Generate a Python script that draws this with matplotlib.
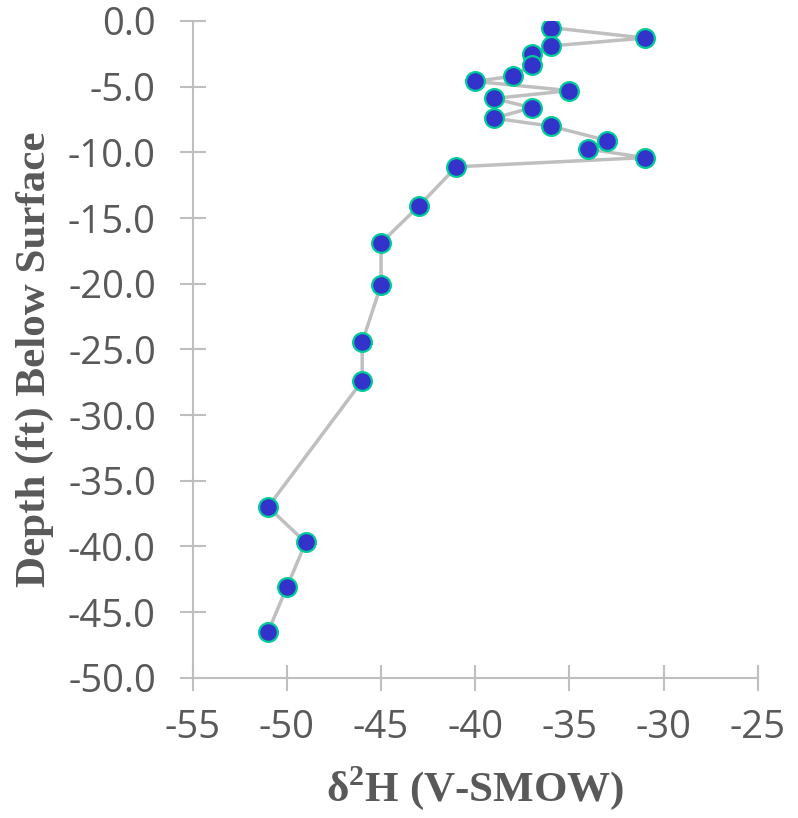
import matplotlib
matplotlib.use("Agg")
import matplotlib.pyplot as plt

plt.rcParams["mathtext.fontset"] = "custom"
plt.rcParams["mathtext.rm"] = "Liberation Serif:bold"
plt.rcParams["mathtext.bf"] = "Liberation Serif:bold"

# Data
d2h = [-36, -31, -36, -37, -37, -38, -40, -35, -39, -37, -39, -36, -33, -34, -31,
       -41, -43, -45, -45, -46, -46, -51, -49, -50, -51]
depth = [-0.5, -1.3, -1.9, -2.5, -3.35, -4.2, -4.6, -5.3, -5.9, -6.6, -7.4, -8.0,
         -9.1, -9.75, -10.4, -11.1, -14.1, -16.9, -20.1, -24.45, -27.4, -37.0,
         -39.7, -43.1, -46.5]
x_ticks = [-55, -50, -45, -40, -35, -30, -25]
y_ticks = [0, -5, -10, -15, -20, -25, -30, -35, -40, -45, -50]
x_label = "δ$^{\\mathbf{2}}$H (V-SMOW)"
y_label = "Depth (ft) Below Surface"

grey = "#BFBFBF"
text_c = "#595959"

fig = plt.figure(figsize=(7.98, 8.18), dpi=100)
ax = fig.add_axes([192.7 / 798, 1 - 677.7 / 818, (757.7 - 192.7) / 798, (677.7 - 21) / 818])

ax.plot(d2h, depth, color=grey, lw=2.5, zorder=2,
        marker="o", ms=13.5, mfc="#3333CC", mec="#00CC99", mew=1.6)

ax.set_xlim(-55, -25)
ax.set_ylim(-50, 0)
ax.set_xticks(x_ticks)
ax.set_yticks(y_ticks)
ax.set_xticklabels([f"{v}" for v in x_ticks])
ax.set_yticklabels([f"{v:.1f}" if v != 0 else "0.0" for v in y_ticks])

for s in ["top", "right"]:
    ax.spines[s].set_visible(False)
for s in ["left", "bottom"]:
    ax.spines[s].set_color(grey)
    ax.spines[s].set_linewidth(1.5)
    ax.spines[s].set_clip_on(False)

ax.tick_params(axis="both", direction="inout", length=19, width=1.5, color=grey,
               labelcolor=text_c, labelsize=27.5)
ax.tick_params(axis="y", pad=17)
ax.tick_params(axis="x", pad=13)
for lab in ax.get_xticklabels() + ax.get_yticklabels():
    lab.set_family("Open Sans")

ax.set_xlabel(x_label, family="Liberation Serif", weight="bold", fontsize=31, color=text_c)
ax.set_ylabel(y_label, family="Liberation Serif", weight="bold", fontsize=31, color=text_c)
ax.xaxis.set_label_coords(0.5, -0.132)
ax.yaxis.set_label_coords(-0.245, 0.485)

fig.savefig("out.png", dpi=100)
